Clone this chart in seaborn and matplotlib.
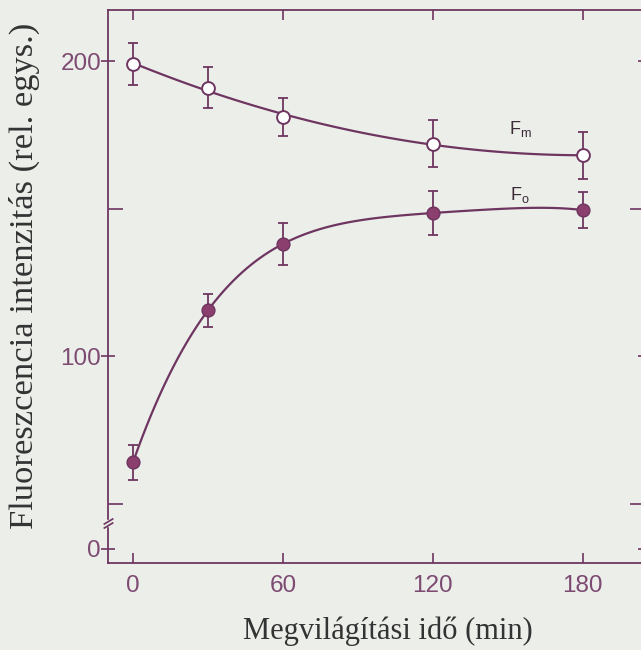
import numpy as np
import matplotlib
matplotlib.use("Agg")
import matplotlib.pyplot as plt
import seaborn as sns

# Megvilágítási idő (min)
time_min = [0, 30, 60, 120, 180]

# F_m (open circles) and F_o (filled circles), rel. units
fm_values = [199, 191, 181, 172, 168]
fm_errors = [7, 7, 6.5, 8, 8]
fo_values = [64, 115.5, 138, 148.5, 149.5]
fo_errors = [6, 5.5, 7, 7.3, 6]

x_ticks = [0, 60, 120, 180]
y_major = [0, 100, 200]
y_minor = [50, 150]

LINE = "#6e3560"
FILL = "#8a3f6e"
TICKC = "#7d4a72"
BG = "#eceeea"

BREAK = 45.0
SQUEEZE = 0.229


def fwd(v):
    v = np.asarray(v, dtype=float)
    return np.where(v >= BREAK, v, BREAK - (BREAK - v) * SQUEEZE)


def inv(u):
    u = np.asarray(u, dtype=float)
    return np.where(u >= BREAK, u, BREAK - (BREAK - u) / SQUEEZE)


def main():
    sns.set_style("ticks")
    plt.rcParams["font.family"] = ["Liberation Sans", "DejaVu Sans"]

    fig = plt.figure(figsize=(6.41, 6.50), dpi=100, facecolor=BG)
    ax = fig.add_axes([108 / 641, 87 / 650, 537 / 641, 553 / 650])
    ax.set_facecolor(BG)
    ax.set_yscale("function", functions=(fwd, inv))

    # Fitted curves (cubic for F_m, quartic for the saturating F_o)
    sns.regplot(x=time_min, y=fm_values, order=3, ci=None, scatter=False,
                truncate=True, ax=ax, line_kws=dict(color=LINE, linewidth=1.6))
    sns.regplot(x=time_min, y=fo_values, order=4, ci=None, scatter=False,
                truncate=True, ax=ax, line_kws=dict(color=LINE, linewidth=1.6))

    # Error bars and markers
    for vals, errs in ((fm_values, fm_errors), (fo_values, fo_errors)):
        ax.errorbar(time_min, vals, yerr=errs, fmt="none", ecolor=LINE,
                    elinewidth=1.3, capsize=3.8, capthick=1.3, zorder=3)
    sns.scatterplot(x=time_min, y=fm_values, ax=ax, s=85, color="white",
                    edgecolor=LINE, linewidth=1.4, zorder=4)
    sns.scatterplot(x=time_min, y=fo_values, ax=ax, s=85, color=FILL,
                    edgecolor=LINE, linewidth=1.0, zorder=4)

    ax.set_xlim(-10, 205)
    ax.set_ylim(-21, 217.3)

    ax.set_xticks(x_ticks)
    ax.set_yticks(y_major)
    ax.set_yticks(y_minor, minor=True)
    ax.tick_params(axis="both", which="both", direction="in", colors=LINE,
                   labelcolor=TICKC, labelsize=17.5, width=1.2,
                   top=True, right=True)
    ax.tick_params(axis="y", which="major", direction="inout", length=10, pad=0)
    ax.tick_params(axis="y", which="minor", length=11)
    ax.tick_params(axis="x", which="major", length=7.5, pad=9)
    for side in ax.spines.values():
        side.set_color(LINE)
        side.set_linewidth(1.3)

    # Axis break marks on the left spine
    ax.plot([-10], [38.4], marker="s", markersize=5, color=BG,
            linestyle="none", clip_on=False, zorder=5)
    ax.plot([-10, -10], [35.8, 41.0], marker=[(-1, -0.6), (1, 0.6)],
            markersize=7, linestyle="none", color=LINE, mec=LINE, mew=1.2,
            clip_on=False, zorder=6)

    ax.text(155, 177, r"$\mathregular{F_m}$", color="#3c2a38", fontsize=13,
            ha="center", va="center")
    ax.text(155, 154.5, r"$\mathregular{F_o}$", color="#3c2a38", fontsize=13,
            ha="center", va="center")

    serif = ["Liberation Serif", "DejaVu Serif"]
    ax.set_xlabel("Megvilágítási idő (min)", family=serif, fontsize=22,
                  color="#333333")
    ax.set_ylabel("Fluoreszcencia intenzitás (rel. egys.)", family=serif,
                  fontsize=24.8, color="#333333")
    ax.xaxis.set_label_coords(0.521, -0.097)
    ax.yaxis.set_label_coords(-0.127, 0.519)

    fig.savefig("out.png", dpi=100, facecolor=BG)
    plt.close(fig)


if __name__ == "__main__":
    main()
